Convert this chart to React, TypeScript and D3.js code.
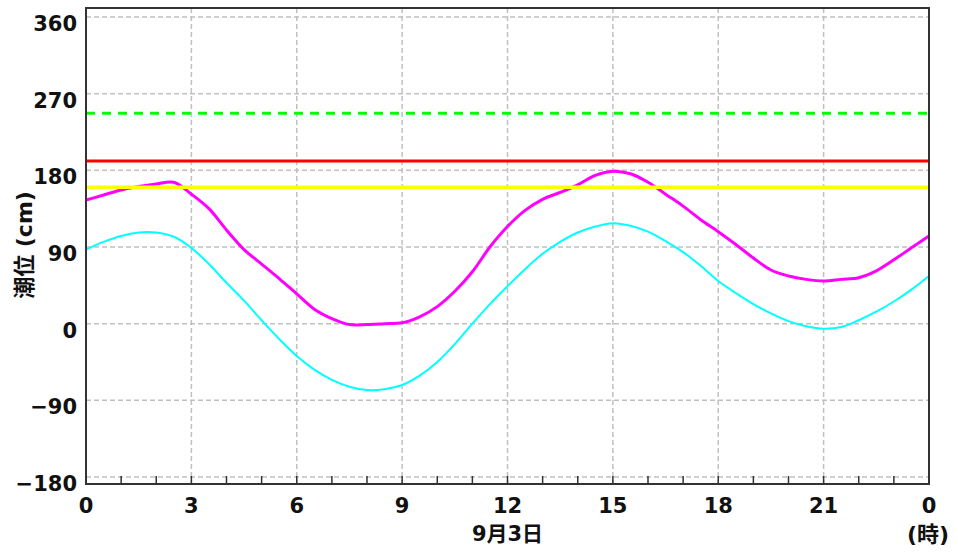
import React from "react";
import * as d3 from "d3";

const hours = [
  0, 0.5, 1, 1.5, 2, 2.5, 3, 3.5, 4, 4.5, 5, 5.5, 6, 6.5, 7, 7.5, 8, 8.5, 9, 9.5,
  10, 10.5, 11, 11.5, 12, 12.5, 13, 13.5, 14, 14.5, 15, 15.5, 16, 16.5, 17, 17.5,
  18, 18.5, 19, 19.5, 20, 20.5, 21, 21.5, 22, 22.5, 23, 23.5, 24,
];

// observed tide (magenta)
const observed = [
  145, 151, 157, 161, 164, 166, 152, 135, 110, 87, 70, 53, 35, 17, 6, -1, -1, 0, 1, 8,
  20, 38, 61, 90, 114, 133, 146, 154, 163, 174, 179, 176, 166, 152, 138, 122,
  108, 93, 77, 63, 56, 52, 50, 52, 54, 62, 75, 89, 103,
];

// astronomical tide (cyan)
const astronomical = [
  87, 96, 103, 107, 107, 102, 89, 70, 48, 27, 4, -18, -38, -54, -66, -74, -78, -77, -72, -61,
  -45, -24, 0, 23, 44, 64, 82, 96, 107, 114, 118, 115, 108, 97, 84, 68,
  50, 36, 23, 12, 3, -3, -6, -4, 4, 14, 26, 40, 56,
];

const yTicks = [-180, -90, 0, 90, 180, 270, 360];
const xTicks = [0, 3, 6, 9, 12, 15, 18, 21, 24];
const xTickLabels = ["0", "3", "6", "9", "12", "15", "18", "21", "0"];
const minorHours = d3.range(1, 24);

const levelGreen = 247;
const levelRed = 191;
const levelYellow = 160;

const dateLabel = "9月3日";
const unitLabel = "(時)";
const yTitle = "潮位 (cm)";

export default function App() {
  const W = 958;
  const H = 554;
  const left = 86;
  const right = 929;
  const frameTop = 8;
  const frameBottom = 484;

  const x = d3.scaleLinear().domain([0, 24]).range([left, right]);
  const y = d3.scaleLinear().domain([-180, 360]).range([477, 17]);

  const line = d3
    .line<number>()
    .x((_, i) => x(hours[i]))
    .y((d) => y(d))
    .curve(d3.curveCatmullRom.alpha(0.5));

  const font = "'DejaVu Sans', 'Noto Sans CJK JP', sans-serif";

  return (
    <svg
      width={W}
      height={H}
      style={{ position: "absolute", left: 0, top: 0, background: "#fff" }}
    >
      <defs>
        <clipPath id="plot">
          <rect x={left} y={frameTop} width={right - left} height={frameBottom - frameTop} />
        </clipPath>
      </defs>
      <rect x={0} y={0} width={W} height={H} fill="#fff" />
      {/* grid */}
      {yTicks.map((t) => (
        <line
          key={"gy" + t}
          x1={left}
          x2={right}
          y1={y(t)}
          y2={y(t)}
          stroke="#c0c0c0"
          strokeWidth={1.5}
          strokeDasharray="5 3"
        />
      ))}
      {xTicks.slice(1, -1).map((t) => (
        <line
          key={"gx" + t}
          x1={x(t)}
          x2={x(t)}
          y1={frameTop}
          y2={frameBottom}
          stroke="#c0c0c0"
          strokeWidth={1.5}
          strokeDasharray="5 3"
        />
      ))}
      <g clipPath="url(#plot)">
        <line
          x1={left}
          x2={right}
          y1={y(levelGreen)}
          y2={y(levelGreen)}
          stroke="#00ff00"
          strokeWidth={3}
          strokeDasharray="9 7"
        />
        <line x1={left} x2={right} y1={y(levelRed)} y2={y(levelRed)} stroke="#ff0000" strokeWidth={3} />
        <path d={line(astronomical) || ""} fill="none" stroke="#00ffff" strokeWidth={2} />
        <path d={line(observed) || ""} fill="none" stroke="#ff00ff" strokeWidth={3} />
        <line
          x1={left}
          x2={right}
          y1={y(levelYellow)}
          y2={y(levelYellow)}
          stroke="#ffff00"
          strokeWidth={3.5}
        />
      </g>
      {/* minor ticks */}
      {minorHours.map((h) => (
        <line
          key={"mt" + h}
          x1={x(h)}
          x2={x(h)}
          y1={frameBottom}
          y2={frameBottom - 8}
          stroke="#333"
          strokeWidth={1.5}
        />
      ))}
      {/* frame */}
      <rect
        x={left}
        y={frameTop}
        width={right - left}
        height={frameBottom - frameTop}
        fill="none"
        stroke="#333"
        strokeWidth={2}
      />
      {/* y labels */}
      {yTicks.map((t) => (
        <text
          key={"yl" + t}
          x={77}
          y={y(t) + 14}
          textAnchor="end"
          fontFamily={font}
          fontWeight="bold"
          fontSize={21}
          fill="#111"
        >
          {t < 0 ? "−" + Math.abs(t) : String(t)}
        </text>
      ))}
      {/* x labels */}
      {xTicks.map((t, i) => (
        <text
          key={"xl" + t}
          x={x(t)}
          y={513}
          textAnchor="middle"
          fontFamily={font}
          fontWeight="bold"
          fontSize={21}
          fill="#111"
        >
          {xTickLabels[i]}
        </text>
      ))}
      <text
        x={x(12)}
        y={541}
        textAnchor="middle"
        fontFamily={font}
        fontWeight="bold"
        fontSize={21}
        fill="#111"
      >
        {dateLabel}
      </text>
      <text
        x={928}
        y={542}
        textAnchor="middle"
        fontFamily={font}
        fontWeight="bold"
        fontSize={22}
        fill="#111"
      >
        {unitLabel}
      </text>
      <text
        transform={`translate(32, 245) rotate(-90)`}
        textAnchor="middle"
        fontFamily={font}
        fontWeight="bold"
        fontSize={22}
        fill="#111"
      >
        {yTitle}
      </text>
    </svg>
  );
}
